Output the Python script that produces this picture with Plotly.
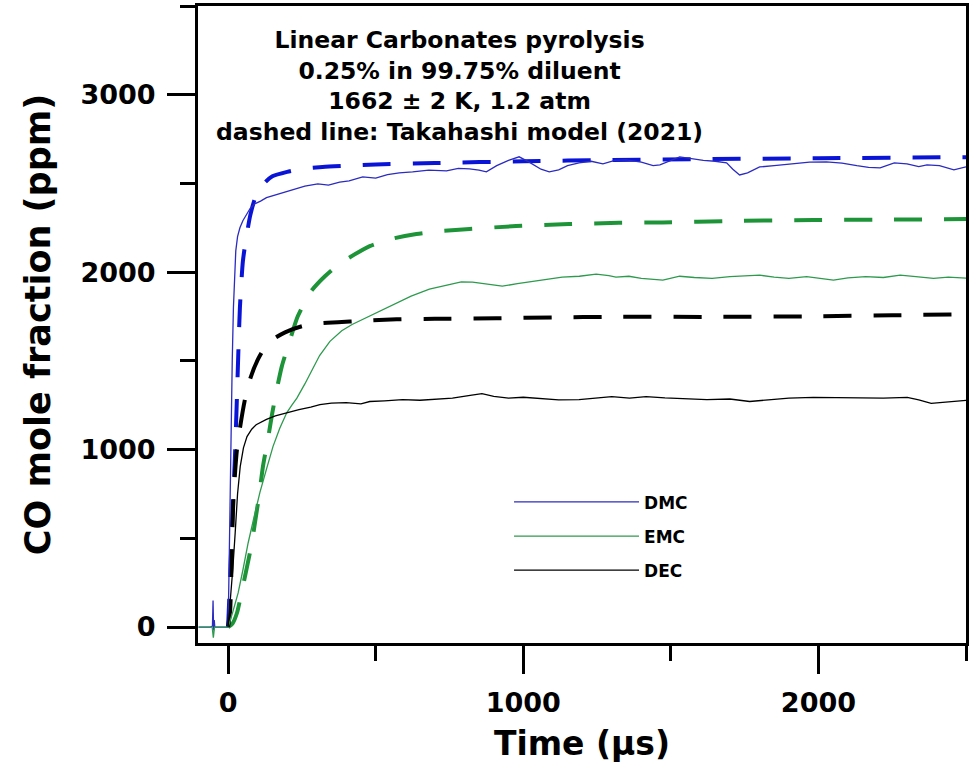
import plotly.graph_objects as go

# ---------------- data ----------------
dmc_exp_t = [-100, -60, -53, -51, -49, -47, -45, -40, 0, 3, 6, 10, 14, 18, 22, 26, 32, 40, 50, 60,
             75, 90, 110, 130, 150, 170, 200, 226, 260, 304, 340, 378, 410, 456, 500, 540, 580,
             625, 680, 740, 780, 818, 850, 875, 910, 950, 986, 1020, 1060, 1088, 1120, 1150, 1189,
             1230, 1270, 1310, 1348, 1400, 1440, 1463, 1500, 1530, 1570, 1610, 1650, 1689, 1710,
             1733, 1760, 1801, 1850, 1916, 1970, 2027, 2080, 2130, 2170, 2209, 2235, 2257, 2300,
             2340, 2368, 2410, 2459, 2500]
dmc_exp_y = [0, 0, 5, 150, -20, 40, 0, 0, 0, 300, 700, 1100, 1500, 1800, 2000, 2120, 2200, 2250, 2290, 2320,
             2360, 2385, 2400, 2420, 2430, 2440, 2455, 2470, 2485, 2497, 2490, 2508, 2515, 2537, 2530, 2550, 2560,
             2565, 2575, 2571, 2585, 2582, 2575, 2565, 2600, 2630, 2650, 2620, 2580, 2565, 2576, 2600, 2616,
             2625, 2610, 2630, 2633, 2620, 2600, 2605, 2630, 2650, 2640, 2630, 2625, 2616, 2580,
             2548, 2560, 2593, 2600, 2610, 2620, 2621, 2615, 2600, 2590, 2588, 2605, 2616, 2610,
             2595, 2605, 2600, 2576, 2593]

dmc_mod_t = [0, 8, 15, 23, 30, 40, 50, 60, 75, 90, 100, 125, 150, 200, 250, 320, 400, 500, 700,
             1000, 1300, 1600, 2000, 2500]
dmc_mod_y = [0, 330, 650, 950, 1300, 1800, 2060, 2180, 2320, 2410, 2440, 2505, 2540, 2565, 2582, 2593,
             2600, 2607, 2615, 2625, 2632, 2637, 2642, 2648]

emc_exp_t = [-100, -60, -54, -50, -46, -40, 0, 15, 34, 50, 68, 88, 108, 130, 152, 175, 199, 216, 233,
             260, 284, 310, 345, 385, 420, 456, 500, 540, 571, 620, 682, 740, 790, 828, 880, 929, 980,
             1044, 1090, 1132, 1190, 1247, 1290, 1314, 1358, 1400, 1473, 1530, 1580, 1640, 1700, 1760,
             1801, 1850, 1900, 1960, 2051, 2100, 2160, 2220, 2277, 2330, 2390, 2440, 2500]
emc_exp_y = [0, 0, 0, -60, 0, 0, 0, 80, 192, 320, 475, 620, 760, 890, 1017, 1120, 1209, 1250, 1290,
             1370, 1450, 1530, 1610, 1670, 1705, 1734, 1770, 1805, 1830, 1865, 1904, 1925, 1945, 1944, 1930, 1921, 1935,
             1949, 1960, 1972, 1977, 1989, 1980, 1972, 1977, 1965, 1955, 1977, 1970, 1965, 1975, 1980,
             1983, 1972, 1965, 1975, 1955, 1968, 1975, 1970, 1983, 1975, 1965, 1972, 1966]

emc_mod_t = [0, 15, 30, 45, 64, 80, 91, 105, 118, 135, 149, 165, 182, 210, 236, 280, 328, 380, 480,
             560, 638, 720, 818, 976, 1155, 1324, 1473, 1700, 1983, 2250, 2500]
emc_mod_y = [0, 20, 79, 190, 339, 470, 588, 740, 904, 1060, 1200, 1340, 1469, 1620, 1751, 1890, 1977,
             2050, 2147, 2190, 2215, 2232, 2243, 2260, 2271, 2278, 2280, 2288, 2294, 2296, 2299]

dec_exp_t = [0, 8, 16, 24, 32, 41, 52, 64, 80, 95, 108, 130, 160, 199, 240, 280, 311, 350, 400, 450,
             480, 530, 591, 650, 700, 760, 820, 860, 900, 950, 1000, 1060, 1120, 1189, 1250, 1300, 1360,
             1416, 1480, 1550, 1622, 1700, 1767, 1830, 1900, 1983, 2060, 2140, 2220, 2301, 2340, 2382,
             2430, 2500]
dec_exp_y = [0, 150, 330, 531, 750, 904, 1010, 1073, 1115, 1140, 1152, 1170, 1190, 1209, 1225, 1240, 1254,
             1262, 1265, 1258, 1271, 1275, 1282, 1278, 1285, 1290, 1305, 1315, 1300, 1290, 1295, 1288, 1280,
             1282, 1292, 1298, 1290, 1299, 1292, 1288, 1282, 1285, 1271, 1280, 1290, 1294, 1292, 1288, 1290,
             1294, 1280, 1260, 1268, 1277]

dec_mod_t = [0, 7, 12, 17, 24, 30, 40, 57, 75, 101, 130, 160, 193, 250, 300, 372, 450, 571, 700, 909,
             1100, 1301, 1642, 1983, 2250, 2500]
dec_mod_y = [0, 96, 380, 678, 880, 1000, 1120, 1282, 1400, 1508, 1590, 1630, 1661, 1695, 1710, 1718,
             1725, 1734, 1737, 1740, 1745, 1748, 1748, 1751, 1757, 1763]

names = ["DMC", "EMC", "DEC"]
x_tickvals = [0, 1000, 2000]
y_tickvals = [0, 1000, 2000, 3000]
annotation_lines = ["Linear Carbonates pyrolysis", "0.25% in 99.75% diluent",
                    "1662 \u00b1 2 K, 1.2 atm", "dashed line: Takahashi model (2021)"]

# ---------------- styles ----------------
FONT = "DejaVu Sans"
BLUE_THIN, BLUE_DASH = "#2B2BC0", "#0A14D6"
GREEN_THIN, GREEN_DASH = "#2E9A4E", "#1E9438"
BLACK = "#000000"
DASH = "28px,22px"

fig = go.Figure()

# model (dashed) lines
for t, y, c in [(dmc_mod_t, dmc_mod_y, BLUE_DASH), (emc_mod_t, emc_mod_y, GREEN_DASH),
                (dec_mod_t, dec_mod_y, BLACK)]:
    fig.add_trace(go.Scatter(x=t, y=y, mode="lines", showlegend=False,
                             line=dict(color=c, width=4, dash=DASH, shape="spline", smoothing=0.6)))

# experimental (thin) lines
for i, (t, y, c) in enumerate([(dmc_exp_t, dmc_exp_y, BLUE_THIN), (emc_exp_t, emc_exp_y, GREEN_THIN),
                               (dec_exp_t, dec_exp_y, BLACK)]):
    fig.add_trace(go.Scatter(x=t, y=y, mode="lines", name=names[i], legendgroup=names[i],
                             line=dict(color=c, width=1.3)))

fig.add_annotation(text="<br>".join(annotation_lines), xref="paper", yref="paper",
                   x=0.34, y=0.972, xanchor="center", yanchor="top", showarrow=False, align="center",
                   font=dict(family=FONT, size=23.5, color="black", weight="bold"))

axis_common = dict(showline=True, linewidth=3, linecolor="black", mirror=True, showgrid=False,
                   zeroline=False, ticks="outside", tickwidth=3, ticklen=28, tickcolor="black",
                   tickfont=dict(family=FONT, size=27, color="black", weight="bold"),
                   minor=dict(ticks="outside", ticklen=15, tickwidth=3, tickcolor="black", dtick=500))

fig.update_xaxes(range=[-102, 2500], tickvals=x_tickvals, ticklabelstandoff=6,
                 title=dict(text="Time (\u03bcs)", standoff=15,
                            font=dict(family=FONT, size=33, color="black", weight="bold")),
                 **axis_common)
fig.update_yaxes(range=[-90, 3500], tickvals=y_tickvals, ticklabelstandoff=6,
                 title=dict(text="CO mole fraction (ppm)", standoff=20,
                            font=dict(family=FONT, size=35, color="black", weight="bold")),
                 **axis_common)

fig.update_layout(width=972, height=775, margin=dict(l=198, r=6, t=6, b=132, autoexpand=False),
                  plot_bgcolor="white", paper_bgcolor="white",
                  legend=dict(x=0.405, y=0.249, xanchor="left", yanchor="top", bgcolor="rgba(0,0,0,0)",
                              itemwidth=125, tracegroupgap=9,
                              font=dict(family=FONT, size=17, color="black", weight="bold")))

fig.write_html("out.html")
